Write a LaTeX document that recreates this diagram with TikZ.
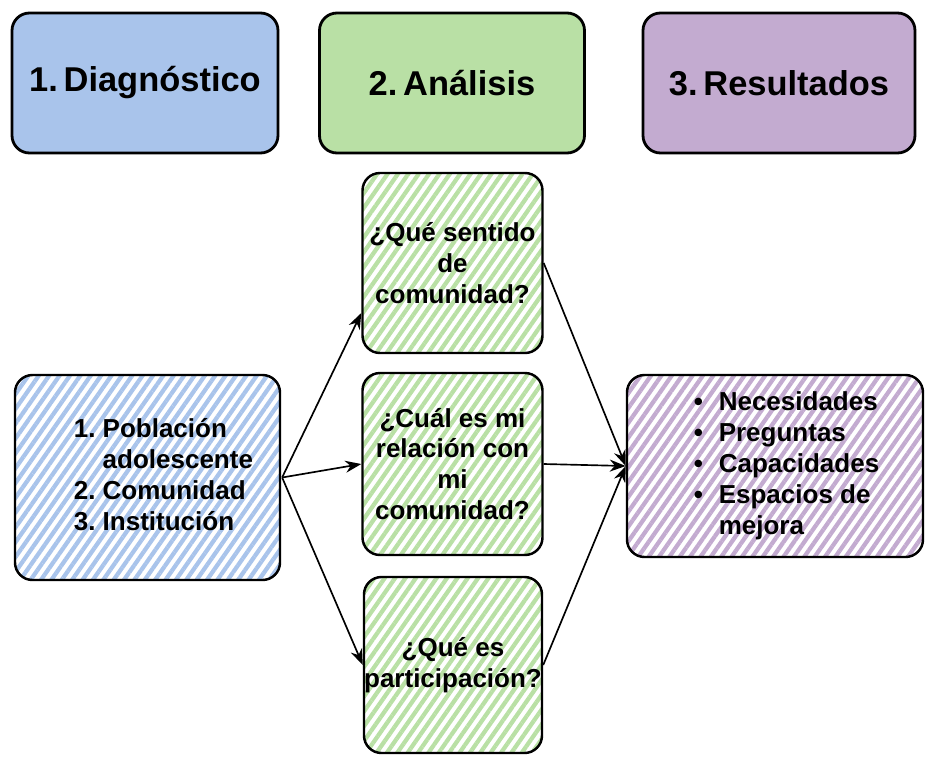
\documentclass[tikz,border=0pt]{standalone}
\usepackage{fontspec}
\setmainfont{Liberation Sans}
\usetikzlibrary{arrows.meta, calc, patterns.meta, positioning}
\definecolor{azul}{HTML}{a9c4eb}
\definecolor{verde}{HTML}{b9e0a5}
\definecolor{lila}{HTML}{c3abd0}

\begin{document}
\begin{tikzpicture}[titulo/.style={draw, line width=1.6pt, rounded corners=0.35cm, minimum height=2.8cm, font=\bfseries\fontsize{19.6}{23}\selectfont},
    rayas/.style={draw, line width=1.4pt, rounded corners=0.35cm, pattern={Lines[angle=55, distance=0.17cm, line width=0.085cm]}, pattern color=#1, align=center, inner sep=0pt, font=\bfseries\fontsize{14.8}{17.6}\selectfont},
    flecha/.style={-{Stealth[length=0.32cm, width=0.24cm]}, line width=0.95pt}]
        \useasboundingbox (0,0) rectangle (18.58,-15.14);

        \node[titulo, fill=azul, minimum width=5.32cm] (diag) at (2.9,-1.66) {1.\,Diagnóstico};
        \node[titulo, fill=verde, minimum width=5.3cm] (anal) at (9.04,-1.66) {2.\,Análisis};
        \node[titulo, fill=lila, minimum width=5.44cm] (resu) at (15.58,-1.66) {3.\,Resultados};

        \node[rayas=azul, minimum width=5.3cm, minimum height=4.1cm] (pob) at (2.95,-9.55) {\hspace*{0.64cm}\begin{tabular}{@{}r@{\hspace{0.14cm}}l@{}}
            1. & Población\\ & adolescente\\ 2. & Comunidad\\ 3. & Institución\end{tabular}};

        \node[rayas=verde, minimum width=3.6cm, minimum height=3.6cm] (q1) at (9.05,-5.26) {¿Qué sentido\\de\\comunidad?};
        \node[rayas=verde, minimum width=3.6cm, minimum height=3.64cm] (q2) at (9.05,-9.28) {¿Cuál es mi\\relación con\\mi\\comunidad?};
        \node[rayas=verde, minimum width=3.56cm, minimum height=3.52cm] (q3) at (9.06,-13.3) {¿Qué es\\participación?};

        \node[rayas=lila, minimum width=5.92cm, minimum height=3.64cm] (res) at (15.5,-9.32) {\hspace*{0.46cm}\begin{tabular}{@{}l@{}l@{}}
            \makebox[0.5cm][l]{•} & Necesidades\\ \makebox[0.5cm][l]{•} & Preguntas\\ \makebox[0.5cm][l]{•} & Capacidades\\
            \makebox[0.5cm][l]{•} & Espacios de\\ & mejora\end{tabular}};

        \draw[flecha] (pob.east) -- ([yshift=-1cm]q1.west);
        \draw[flecha] (pob.east) -- (q2.west);
        \draw[flecha] (pob.east) -- (q3.west);
        \foreach \q in {q1, q2, q3}
            \draw[flecha] (\q.east) -- (res.west);
    \end{tikzpicture}
\end{document}
